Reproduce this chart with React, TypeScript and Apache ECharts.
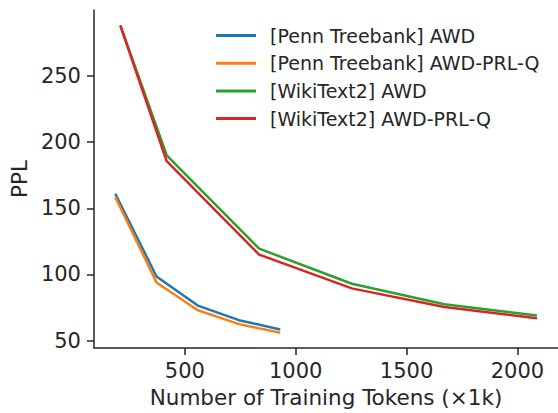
import React, { useEffect, useRef } from "react";
import * as echarts from "echarts";

const ptbTokens = [186, 372, 558, 744, 930];
const wtTokens = [209, 418, 835, 1253, 1670, 2088];
const ptbAWD = [161, 98.5, 76.5, 65.5, 58.5];
const ptbPRL = [158.5, 94, 73, 62.5, 56];
const wtAWD = [288, 190, 119.5, 93, 77.5, 69];
const wtPRL = [288, 185.5, 115, 89.5, 75.5, 67];
const seriesNames = [
  "[Penn Treebank] AWD",
  "[Penn Treebank] AWD-PRL-Q",
  "[WikiText2] AWD",
  "[WikiText2] AWD-PRL-Q",
];
const colors = ["#1f77b4", "#ff7f0e", "#2ca02c", "#d62728"];
const xTicks = [500, 1000, 1500, 2000];
const yTicks = [50, 100, 150, 200, 250];

const FONT = "DejaVu Sans";
const INK = "#262626";

export default function App() {
  const ref = useRef<HTMLDivElement>(null);
  useEffect(() => {
    if (!ref.current) return;
    const chart = echarts.init(ref.current, null, { renderer: "svg" });
    const zip = (xs: number[], ys: number[]) => xs.map((x, i) => [x, ys[i]]);
    const datasets = [
      zip(ptbTokens, ptbAWD),
      zip(ptbTokens, ptbPRL),
      zip(wtTokens, wtAWD),
      zip(wtTokens, wtPRL),
    ];
    chart.setOption({
      animation: false,
      backgroundColor: "#ffffff",
      color: colors,
      grid: { left: 92, top: 10, width: 468, height: 342, containLabel: false },
      legend: {
        orient: "vertical",
        left: 216,
        top: 26,
        padding: 0,
        icon: "rect",
        itemWidth: 40,
        itemHeight: 3,
        itemGap: 8.7,
        textStyle: { fontFamily: FONT, fontSize: 19, color: INK, padding: [0, 0, 0, 9] },
        data: seriesNames,
      },
      xAxis: {
        type: "value",
        min: 90,
        max: 2183,
        name: "Number of Training Tokens (×1k)",
        nameLocation: "middle",
        nameGap: 37,
        nameTextStyle: { fontFamily: FONT, fontSize: 21.5, color: INK },
        axisLine: { show: true, lineStyle: { color: INK, width: 1.5 } },
        axisTick: { show: true, length: 7, lineStyle: { color: INK, width: 1.5 }, customValues: xTicks },
        axisLabel: {
          fontFamily: FONT,
          fontSize: 21,
          color: INK,
          margin: 12,
          customValues: xTicks,
          formatter: (v: number) => String(v),
        },
        splitLine: { show: false },
      },
      yAxis: {
        type: "value",
        min: 44.4,
        max: 299.7,
        name: "PPL",
        nameLocation: "middle",
        nameGap: 56,
        nameRotate: 90,
        nameTextStyle: { fontFamily: FONT, fontSize: 21.5, color: INK },
        axisLine: { show: true, lineStyle: { color: INK, width: 1.5 } },
        axisTick: { show: true, length: 7, lineStyle: { color: INK, width: 1.5 }, customValues: yTicks },
        axisLabel: {
          fontFamily: FONT,
          fontSize: 21,
          color: INK,
          margin: 13,
          customValues: yTicks,
          formatter: (v: number) => String(v),
        },
        splitLine: { show: false },
      },
      series: datasets.map((d, i) => ({
        name: seriesNames[i],
        type: "line",
        data: d,
        showSymbol: false,
        symbol: "none",
        lineStyle: { width: 2.5, color: colors[i] },
        itemStyle: { color: colors[i] },
      })),
    });
    return () => chart.dispose();
  }, []);
  return (
    <div
      ref={ref}
      style={{ position: "fixed", left: 0, top: 0, width: 558, height: 413 }}
    />
  );
}
